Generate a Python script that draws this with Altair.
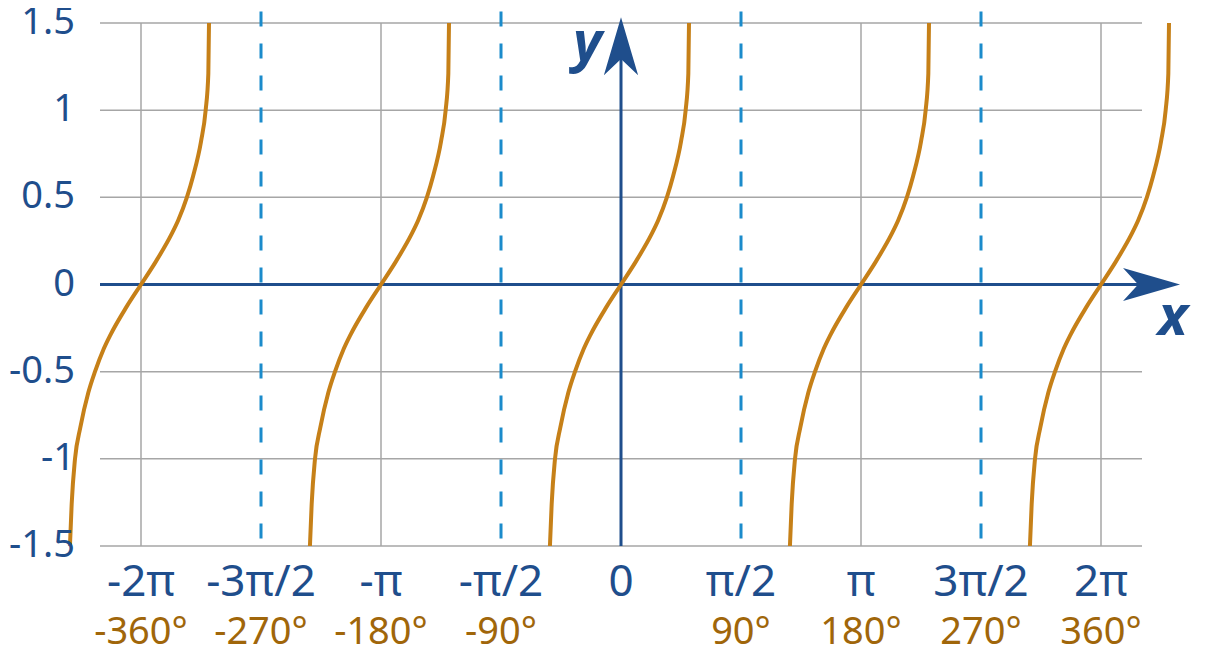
import altair as alt
import pandas as pd

# ---- data ----
tick_deg = [-360, -270, -180, -90, 0, 90, 180, 270, 360]
pi_labels = ["-2π", "-3π/2", "-π", "-π/2", "0", "π/2", "π", "3π/2", "2π"]
deg_labels = ["-360°", "-270°", "-180°", "-90°", "", "90°", "180°", "270°", "360°"]
y_ticks = [-1.5, -1, -0.5, 0, 0.5, 1, 1.5]
y_labels = ["-1.5", "-1", "-0.5", "0", "0.5", "1", "1.5"]
grid_x = [-360, -180, 180, 360]
asymptotes = [-270, -90, 90, 270]
branch_centers = [-360, -180, 0, 180, 360]
# one branch of the curve: offset from its centre (degrees) and value
branch_offset = [-53.3, -52.0, -49.5, -45.5, -39.5, -34.5, -28.0, -23.0, -11.0, 0.0,
                 11.0, 23.0, 28.0, 34.4, 39.0, 45.0, 48.5, 50.5, 51.0]
branch_y = [-1.5, -1.26, -1.0, -0.82, -0.62, -0.5, -0.37, -0.29, -0.13, 0.0,
            0.13, 0.29, 0.37, 0.5, 0.62, 0.82, 1.0, 1.21, 1.5]

X_DOMAIN = [-390.75, 390.75]
Y_DOMAIN = [-1.5, 1.5]

# annotation anchors (data units)
x_arrow = {"x": 397.9, "y": 0.0}
y_arrow = {"x": 0.0, "y": 1.366}
x_name = {"x": 414.0, "y": -0.292, "t": "x"}
y_name = {"x": -25.1, "y": 1.28, "t": "y"}
dash_top, dash_bottom = 1.6, -1.546

BLUE = "#1F4E8C"
BROWN = "#A0660A"
CURVE = "#C68018"
DASH = "#1B8BCB"
GRID = "#A6A6A6"
FONT = "Noto Sans"

xs = alt.Scale(domain=X_DOMAIN, nice=False, zero=False)
ys = alt.Scale(domain=Y_DOMAIN, nice=False, zero=False)


def X(f):
    return alt.X(f, type="quantitative", scale=xs, axis=None)


def Y(f):
    return alt.Y(f, type="quantitative", scale=ys, axis=None)


rows = []
for c in branch_centers:
    for o, v in zip(branch_offset, branch_y):
        rows.append({"x": c + o, "y": v, "branch": c})
curve_df = pd.DataFrame(rows)

# grid lines
hgrid_df = pd.DataFrame({"y": y_ticks, "x": [X_DOMAIN[0]] * len(y_ticks), "x2": [X_DOMAIN[1]] * len(y_ticks)})
hgrid = alt.Chart(hgrid_df).mark_rule(color=GRID, strokeWidth=1.5).encode(
    x=X("x"), x2="x2", y=Y("y"))
vgrid_df = pd.DataFrame({"x": grid_x, "y": [Y_DOMAIN[0]] * len(grid_x), "y2": [Y_DOMAIN[1]] * len(grid_x)})
vgrid = alt.Chart(vgrid_df).mark_rule(color=GRID, strokeWidth=1.5).encode(
    x=X("x"), y=Y("y"), y2="y2")

curve = alt.Chart(curve_df).mark_line(
    color=CURVE, strokeWidth=4, interpolate="monotone"
).encode(x=X("x"), y=Y("y"), detail="branch:N")

dash_df = pd.DataFrame({"x": asymptotes, "y": [dash_top] * 4, "y2": [dash_bottom] * 4})
dashes = alt.Chart(dash_df).mark_rule(
    color=DASH, strokeWidth=3, strokeDash=[15, 17], strokeDashOffset=-6
).encode(x=X("x"), y=Y("y"), y2="y2")

xaxis_df = pd.DataFrame({"x": [X_DOMAIN[0]], "x2": [x_arrow["x"]], "y": [0.0]})
xaxis_line = alt.Chart(xaxis_df).mark_rule(color=BLUE, strokeWidth=3).encode(
    x=X("x"), x2="x2", y=Y("y"))
yaxis_df = pd.DataFrame({"x": [0.0], "y": [Y_DOMAIN[0]], "y2": [y_arrow["y"]]})
yaxis_line = alt.Chart(yaxis_df).mark_rule(color=BLUE, strokeWidth=3).encode(
    x=X("x"), y=Y("y"), y2="y2")

x_head = alt.Chart(pd.DataFrame([x_arrow])).mark_point(
    shape="M 1 0 L -1 -0.58 L -0.47 0 L -1 0.58 Z", size=3249,
    filled=True, color=BLUE, opacity=1, strokeWidth=0,
).encode(x=X("x"), y=Y("y"))

y_head = alt.Chart(pd.DataFrame([y_arrow])).mark_point(
    shape="M 0 -1 L -0.59 1 L 0 0.44 L 0.59 1 Z", size=3364,
    filled=True, color=BLUE, opacity=1, strokeWidth=0,
).encode(x=X("x"), y=Y("y"))

names_df = pd.DataFrame([x_name, y_name])
names = alt.Chart(names_df).mark_text(
    font=FONT, fontSize=56, fontWeight="bold", fontStyle="italic",
    color=BLUE, baseline="alphabetic", align="center",
).encode(x=X("x"), y=Y("y"), text="t:N")

ylab_df = pd.DataFrame({"y": y_ticks, "x": [X_DOMAIN[0]] * len(y_ticks), "t": y_labels})
ylab = alt.Chart(ylab_df).mark_text(
    font=FONT, fontSize=38, color=BLUE, baseline="middle", align="right", dx=-25,
).encode(x=X("x"), y=Y("y"), text="t:N")

lab_df = pd.DataFrame({"x": tick_deg, "y": [Y_DOMAIN[0]] * len(tick_deg),
                       "pi": pi_labels, "deg": deg_labels})
pi_text = alt.Chart(lab_df).mark_text(
    font=FONT, fontSize=44, color=BLUE, baseline="alphabetic", align="center", dy=50,
).encode(x=X("x"), y=Y("y"), text="pi:N")
deg_text = alt.Chart(lab_df).mark_text(
    font=FONT, fontSize=38, color=BROWN, baseline="alphabetic", align="center", dy=98,
).encode(x=X("x"), y=Y("y"), text="deg:N")

chart = alt.layer(
    hgrid, vgrid, dashes, xaxis_line, yaxis_line, x_head, y_head, curve,
    names, ylab, pi_text, deg_text
).properties(
    width=1042, height=523,
    padding={"left": 92, "top": 15, "right": 78, "bottom": 110},
    autosize=alt.AutoSizeParams(type="none"),
    background="white",
).configure_view(stroke=None)

chart.save("out.html", embed_options={"renderer": "svg", "actions": False})
